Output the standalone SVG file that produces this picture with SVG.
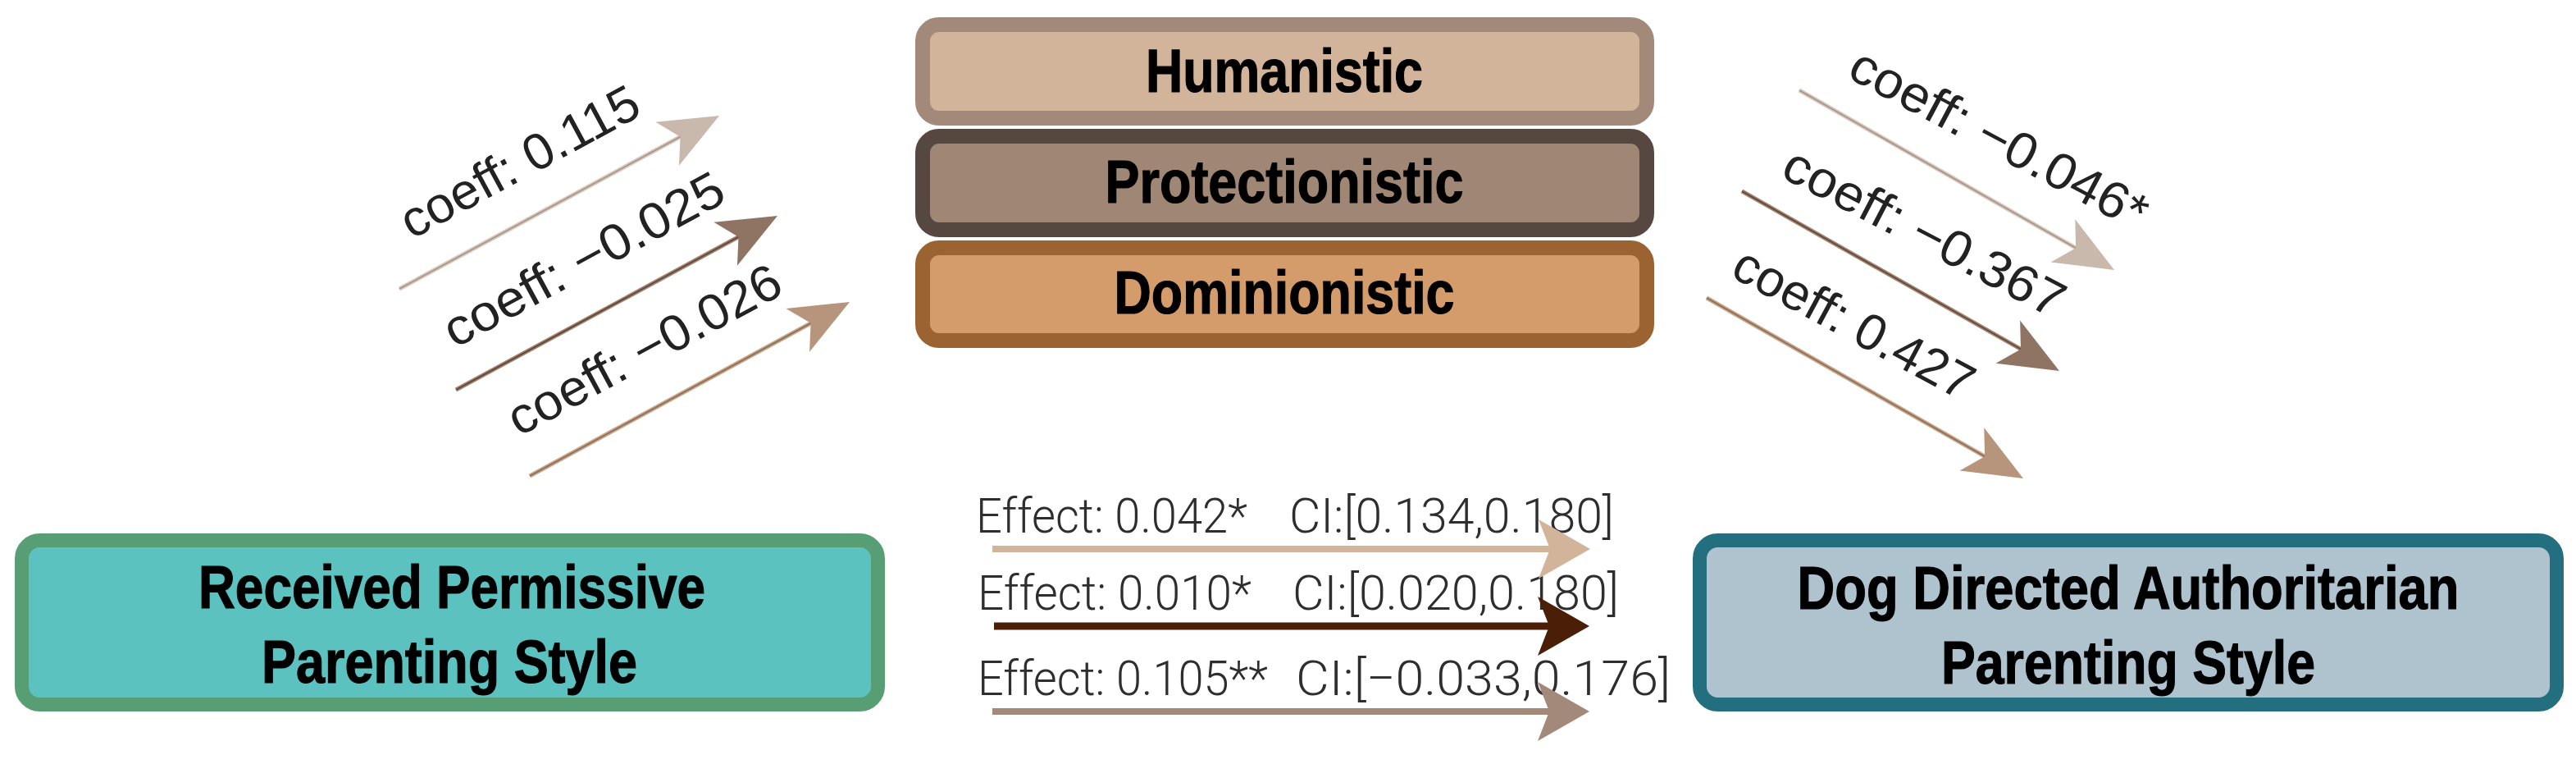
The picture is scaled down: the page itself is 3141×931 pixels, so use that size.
<svg xmlns="http://www.w3.org/2000/svg" width="3141" height="931" viewBox="0 0 3141 931">
<style>
.box{stroke-width:18}
.pbox{stroke-width:17}
.big{font-family:'Liberation Sans Narrow','Liberation Sans',Arial,sans-serif;font-weight:bold;font-size:75px;fill:#000;stroke:#000;stroke-width:1.2;text-anchor:middle}
.coef{font-family:'Liberation Sans',Arial,sans-serif;font-size:62px;fill:#222;text-anchor:middle}
.eff{font-family:Roboto,'Liberation Sans',Arial,sans-serif;font-weight:300;font-size:59px;fill:#2e2e2e}
.c1o{stroke:#D6C8BE;stroke-width:5;fill:none}
.c1i{stroke:#A79283;stroke-width:1.6;fill:none}
.c2o{stroke:#A08270;stroke-width:5;fill:none}
.c2i{stroke:#5E4535;stroke-width:1.6;fill:none}
.c3o{stroke:#C4A48A;stroke-width:5;fill:none}
.c3i{stroke:#8D6C52;stroke-width:1.6;fill:none}
</style>
<defs>
<path id="hd" d="M0,0 L-72,-30 L-54,0 L-72,30 Z"/>
<path id="hh" d="M0,0 L-63,-36 L-49,0 L-63,36 Z"/>
</defs>
<rect width="3141" height="931" fill="#fff"/>

<g id="node-humanistic">
<rect class="box" x="1125" y="30" width="883" height="114" rx="20" fill="#D2B49B" stroke="#A3897A"/>
<text class="big" x="1566" y="112" textLength="338" lengthAdjust="spacingAndGlyphs">Humanistic</text>
</g>
<g id="node-protectionistic">
<rect class="box" x="1125" y="166" width="883" height="114" rx="20" fill="#A08674" stroke="#574741"/>
<text class="big" x="1566" y="247" textLength="437" lengthAdjust="spacingAndGlyphs">Protectionistic</text>
</g>
<g id="node-dominionistic">
<rect class="box" x="1125" y="302" width="883" height="113" rx="20" fill="#D49C6B" stroke="#9B6232"/>
<text class="big" x="1566" y="382" textLength="415" lengthAdjust="spacingAndGlyphs">Dominionistic</text>
</g>
<g id="node-received">
<rect class="pbox" x="26.5" y="658.5" width="1044" height="200" rx="22" fill="#5BC2C0" stroke="#589E75"/>
<text class="big" x="551" y="741" textLength="618" lengthAdjust="spacingAndGlyphs">Received Permissive</text>
<text class="big" x="548" y="832" textLength="458" lengthAdjust="spacingAndGlyphs">Parenting Style</text>
</g>
<g id="node-dog">
<rect class="pbox" x="2072.5" y="658.5" width="1045" height="200" rx="22" fill="#AFC3CE" stroke="#236F80"/>
<text class="big" x="2595" y="742" textLength="807" lengthAdjust="spacingAndGlyphs">Dog Directed Authoritarian</text>
<text class="big" x="2595" y="833" textLength="456" lengthAdjust="spacingAndGlyphs">Parenting Style</text>
</g>

<g id="labels">
<text class="coef" transform="translate(634,198) rotate(-28.4)" y="20" textLength="322" lengthAdjust="spacingAndGlyphs">coeff: 0.115</text>
<text class="coef" transform="translate(712,317) rotate(-28.4)" y="20" textLength="380" lengthAdjust="spacingAndGlyphs">coeff: −0.025</text>
<text class="coef" transform="translate(786,427) rotate(-28.4)" y="20" textLength="370" lengthAdjust="spacingAndGlyphs">coeff: −0.026</text>
<text class="coef" transform="translate(2437,170) rotate(28)" y="20" textLength="402" lengthAdjust="spacingAndGlyphs">coeff: −0.046*</text>
<text class="coef" transform="translate(2346,284) rotate(27.5)" y="20" textLength="378" lengthAdjust="spacingAndGlyphs">coeff: −0.367</text>
<text class="coef" transform="translate(2260,395) rotate(28.3)" y="20" textLength="324" lengthAdjust="spacingAndGlyphs">coeff: 0.427</text>
<text class="eff" x="1190" y="649" textLength="331" lengthAdjust="spacingAndGlyphs">Effect: 0.042*</text>
<text class="eff" x="1572" y="649" textLength="396" lengthAdjust="spacingAndGlyphs">CI:[0.134,0.180]</text>
<text class="eff" x="1192" y="743" textLength="334" lengthAdjust="spacingAndGlyphs">Effect: 0.010*</text>
<text class="eff" x="1576" y="743" textLength="398" lengthAdjust="spacingAndGlyphs">CI:[0.020,0.180]</text>
<text class="eff" x="1192" y="847" textLength="354" lengthAdjust="spacingAndGlyphs">Effect: 0.105**</text>
<text class="eff" x="1580" y="847" textLength="457" lengthAdjust="spacingAndGlyphs">CI:[−0.033,0.176]</text>
</g>

<g id="connectors">
<line class="c1o" x1="487" y1="352" x2="833" y2="164.8"/>
<line class="c1i" x1="487" y1="352" x2="833" y2="164.8"/>
<use href="#hd" fill="#C9B8AC" transform="translate(877,141) rotate(-28.41)"/>
<line class="c2o" x1="556" y1="475" x2="904" y2="286.8"/>
<line class="c2i" x1="556" y1="475" x2="904" y2="286.8"/>
<use href="#hd" fill="#8F7464" transform="translate(948,263) rotate(-28.4)"/>
<line class="c3o" x1="646" y1="580" x2="992" y2="392"/>
<line class="c3i" x1="646" y1="580" x2="992" y2="392"/>
<use href="#hd" fill="#B6957C" transform="translate(1036,368) rotate(-28.53)"/>

<line class="c1o" x1="2194" y1="110" x2="2534.6" y2="304.2"/>
<line class="c1i" x1="2194" y1="110" x2="2534.6" y2="304.2"/>
<use href="#hd" fill="#C9B8AC" transform="translate(2578,329) rotate(29.7)"/>
<line class="c2o" x1="2124" y1="233" x2="2467.5" y2="427.4"/>
<line class="c2i" x1="2124" y1="233" x2="2467.5" y2="427.4"/>
<use href="#hd" fill="#8F7464" transform="translate(2511,452) rotate(29.51)"/>
<line class="c3o" x1="2081" y1="363" x2="2423.6" y2="558.2"/>
<line class="c3i" x1="2081" y1="363" x2="2423.6" y2="558.2"/>
<use href="#hd" fill="#B6957C" transform="translate(2467,583) rotate(29.68)"/>

<line x1="1210" y1="669" x2="1895" y2="669" stroke="#D2B49B" stroke-width="8"/>
<use href="#hh" fill="#D2B49B" transform="translate(1939,669)"/>
<line x1="1212" y1="763" x2="1895" y2="763" stroke="#4B1E07" stroke-width="9"/>
<use href="#hh" fill="#4B1E07" transform="translate(1938,763)"/>
<line x1="1210" y1="867" x2="1895" y2="867" stroke="#A3897A" stroke-width="8"/>
<use href="#hh" fill="#A3897A" transform="translate(1938,867)"/>
</g>
</svg>
